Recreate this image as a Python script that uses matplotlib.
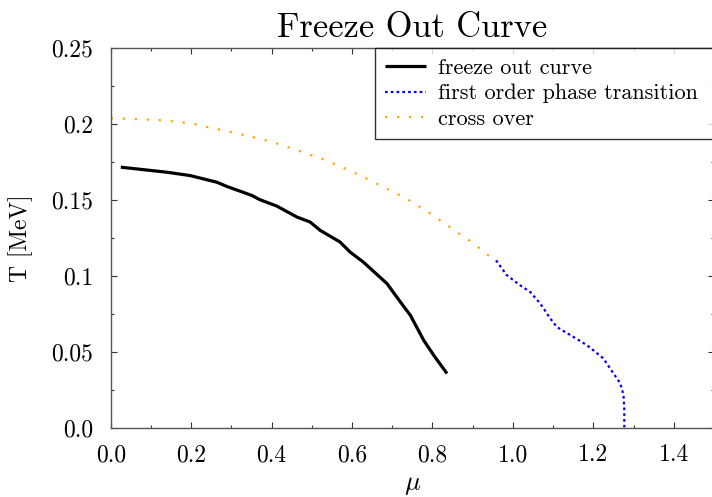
import matplotlib
matplotlib.use("Agg")
import matplotlib.pyplot as plt
from matplotlib.ticker import MultipleLocator, FixedLocator, FixedFormatter

plt.rcParams['font.family'] = 'serif'
plt.rcParams['font.serif'] = ['cmr10']
plt.rcParams['mathtext.fontset'] = 'cm'
plt.rcParams['axes.formatter.use_mathtext'] = True

# freeze out curve (mu, T)
freeze_mu = [0.025, 0.139, 0.197, 0.264, 0.289, 0.351, 0.371, 0.413, 0.463, 0.496,
             0.521, 0.570, 0.595, 0.628, 0.687, 0.720, 0.745, 0.778, 0.803, 0.836]
freeze_T = [0.1716, 0.1683, 0.1661, 0.1617, 0.1589, 0.1530, 0.1502, 0.1460, 0.1388, 0.1355,
            0.1300, 0.1224, 0.1158, 0.1092, 0.0950, 0.0830, 0.0742, 0.0578, 0.0479, 0.0359]

# cross over line
cross_mu = [0.0, 0.073, 0.139, 0.205, 0.272, 0.338, 0.404, 0.471, 0.537, 0.603,
            0.670, 0.736, 0.802, 0.864, 0.886, 0.939, 0.958]
cross_T = [0.2038, 0.2031, 0.2023, 0.2001, 0.1962, 0.1924, 0.1880, 0.1821, 0.1760, 0.1683,
           0.1596, 0.1508, 0.1399, 0.1283, 0.1246, 0.1136, 0.1103]

# first order phase transition
first_mu = [0.958, 0.985, 1.018, 1.043, 1.068, 1.093, 1.109, 1.150, 1.184, 1.225,
            1.250, 1.267, 1.275, 1.277, 1.277]
first_T = [0.1103, 0.1005, 0.0939, 0.0895, 0.0819, 0.0720, 0.0665, 0.0600, 0.0545, 0.0458,
           0.0359, 0.0294, 0.0217, 0.0118, 0.0]

x_ticks = [0.0, 0.2, 0.4, 0.6, 0.8, 1.0, 1.2, 1.4]
x_labels = ['0.0', '0.2', '0.4', '0.6', '0.8', '1.0', '1.2', '1.4']
y_ticks = [0.0, 0.05, 0.1, 0.15, 0.2, 0.25]
y_labels = ['0.0', '0.05', '0.1', '0.15', '0.2', '0.25']

fig = plt.figure(figsize=(7.12, 4.97), dpi=100)
ax = fig.add_axes([0.1555, 0.1388, 0.8473, 0.7646])

ax.plot(freeze_mu, freeze_T, color='black', lw=2.3, solid_capstyle='butt',
        label='freeze out curve')
ax.plot(first_mu, first_T, color='blue', lw=1.6, dashes=(1.2, 1.4),
        label='first order phase transition')
ax.plot(cross_mu, cross_T, color='orange', lw=1.6, dashes=(1.0, 4.4),
        label='cross over')

ax.set_xlim(0, 1.5)
ax.set_ylim(0, 0.25)
ax.xaxis.set_major_locator(FixedLocator(x_ticks))
ax.xaxis.set_major_formatter(FixedFormatter(x_labels))
ax.yaxis.set_major_locator(FixedLocator(y_ticks))
ax.yaxis.set_major_formatter(FixedFormatter(y_labels))
ax.xaxis.set_minor_locator(MultipleLocator(0.1))
ax.yaxis.set_minor_locator(MultipleLocator(0.025))
ax.tick_params(which='both', direction='in', top=True, right=True, labelsize=17,
               color='#333333', width=0.8)
ax.tick_params(which='major', length=4.5)
ax.tick_params(which='minor', length=2.5)
ax.tick_params(axis='x', pad=11.5)
ax.tick_params(axis='y', pad=12.5)
for s in ax.spines.values():
    s.set_color('#555555')
    s.set_linewidth(1.0)

ax.set_title('Freeze Out Curve', fontsize=24.8, pad=8)
ax.set_xlabel(r'$\mu$', fontsize=19, labelpad=5)
ax.set_ylabel('T [MeV]', fontsize=17, labelpad=13)

# legend box runs past the right edge of the figure, as in the original
leg = ax.legend(loc='upper left', bbox_to_anchor=(0.438, 0.0, 0.58, 1.0),
                mode='expand', borderaxespad=0,
                fontsize=16, frameon=True, fancybox=False, edgecolor='black',
                handlelength=1.85, handletextpad=0.54, labelspacing=0.28,
                borderpad=0.45)
leg.get_frame().set_linewidth(1.0)

fig.savefig('out.png', dpi=100)
